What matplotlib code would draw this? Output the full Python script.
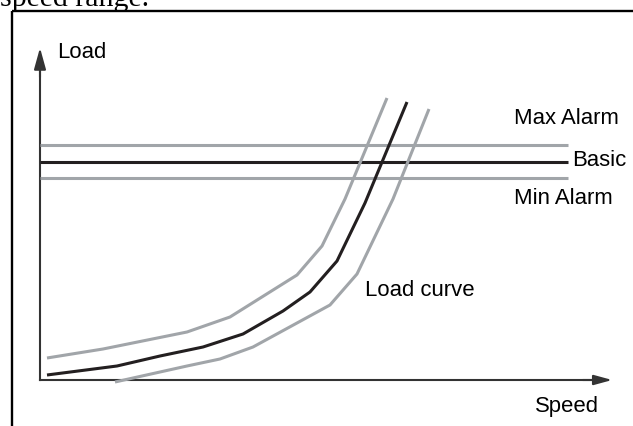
import matplotlib
matplotlib.use("Agg")
import matplotlib.pyplot as plt

plt.rcParams['font.family'] = ['Liberation Sans', 'DejaVu Sans']

## Load curve with its upper/lower tolerance curves (speed, load)
speed_mid = [7, 77, 120, 163, 203, 243, 270, 297, 325, 367]
load_mid = [5, 14, 24, 33, 46, 69, 88, 119, 177, 278]
speed_hi = [7, 63, 147, 190, 257, 282, 305, 347]
load_hi = [22, 31, 48, 63, 105, 134, 181, 282]
speed_lo = [75, 147, 180, 213, 290, 317, 353, 389]
load_lo = [-2, 14, 21, 33, 75, 106, 181, 271]

## Alarm levels
level_names = ["Max Alarm", "Basic", "Min Alarm"]
level_values = [235, 218.5, 202]
level_end = 528

black = '#231f20'
grey = '#a1a5a9'
axcol = '#333333'

fig = plt.figure(figsize=(6.33, 4.27), dpi=100)
ax = fig.add_axes([0, 0, 1, 1])
ax.set_xlim(-40, 593)
ax.set_ylim(-46, 381)
ax.axis('off')

# frame round the drawing (only left and top are visible)
ax.plot([-28, -28], [-60, 369], color='black', lw=1.7, solid_capstyle='butt')
ax.plot([-28, 610], [369, 369], color='black', lw=1.7, solid_capstyle='butt')
ax.text(-40, 375, "speed range.", family='Liberation Serif', fontsize=21.5,
        ha='left', va='baseline', color='black', clip_on=False)

# axes with arrows
ax.plot([0, 0], [0, 318], color=axcol, lw=1.5)
ax.plot([0, 560], [0, 0], color=axcol, lw=1.5)
ax.annotate('', xy=(0, 335), xytext=(0, 300),
            arrowprops=dict(arrowstyle='-|>,head_length=0.65,head_width=0.18',
                            mutation_scale=20, color=axcol, lw=1.5))
ax.annotate('', xy=(575, 0), xytext=(540, 0),
            arrowprops=dict(arrowstyle='-|>,head_length=0.55,head_width=0.15',
                            mutation_scale=20, color=axcol, lw=1.5))

# alarm levels
for name, val in zip(level_names, level_values):
    col = black if name == "Basic" else grey
    ax.plot([0, level_end], [val, val], color=col, lw=2.2, solid_capstyle='butt')

# curves
ax.plot(speed_hi, load_hi, color=grey, lw=2.2, solid_capstyle='butt')
ax.plot(speed_lo, load_lo, color=grey, lw=2.2, solid_capstyle='butt')
ax.plot(speed_mid, load_mid, color=black, lw=2.2, solid_capstyle='butt')

fs = 15.9
ax.text(17, 329, "Load", fontsize=fs, ha='left', va='center', color='black')
ax.text(495, -26, "Speed", fontsize=fs, ha='left', va='center', color='black')
ax.text(325, 91, "Load curve", fontsize=fs, ha='left', va='center', color='black')
ax.text(474, 262, "Max Alarm", fontsize=fs, ha='left', va='center', color='black')
ax.text(532, 221, "Basic", fontsize=fs, ha='left', va='center', color='black')
ax.text(474, 182, "Min Alarm", fontsize=fs, ha='left', va='center', color='black')

fig.savefig('out.png', dpi=100)
